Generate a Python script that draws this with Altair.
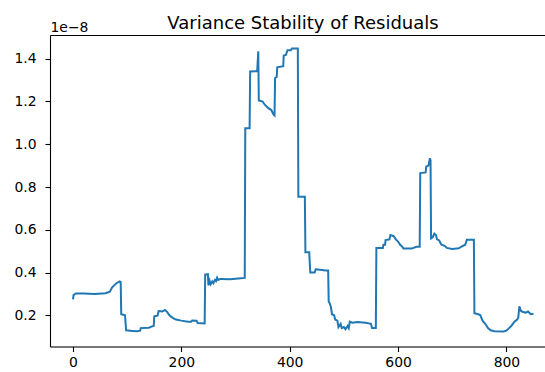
import altair as alt
import pandas as pd

# Rolling variance of residuals (units of 1e-8)
x_vals = [0, 1, 3, 5, 20, 40, 60, 68, 72, 76, 80, 84, 86, 88, 89, 96, 98, 110, 118, 124,
          125, 140, 146, 149, 150, 156, 158, 165, 170, 174, 178, 184, 190, 200, 212, 218,
          220, 228, 230, 243, 244, 249, 250, 252, 254, 257, 259, 262, 264, 266, 268, 272,
          290, 305, 317, 318, 326, 327, 340, 342, 343, 350, 354, 360, 366, 370, 372, 373,
          376, 377, 388, 389, 393, 396, 402, 404, 415, 416, 428, 429, 436, 438, 446, 448,
          460, 466, 471, 472, 474, 476, 478, 482, 484, 488, 490, 494, 496, 500, 503, 507,
          509, 511, 516, 525, 540, 550, 552, 559, 560, 572, 573, 576, 577, 584, 586, 592,
          596, 600, 604, 608, 610, 625, 634, 640, 641, 651, 652, 656, 659, 660, 661, 664,
          667, 670, 672, 676, 680, 686, 690, 700, 712, 718, 724, 727, 740, 741, 748, 752,
          756, 761, 766, 771, 778, 795, 800, 805, 809, 812, 815, 820, 822, 824, 827, 831,
          836, 840, 845, 850]
y_vals = [0.275, 0.295, 0.298, 0.302, 0.302, 0.300, 0.303, 0.310, 0.330, 0.340, 0.350,
          0.355, 0.358, 0.355, 0.205, 0.200, 0.130, 0.127, 0.125, 0.128, 0.140, 0.142,
          0.148, 0.150, 0.195, 0.198, 0.220, 0.218, 0.225, 0.215, 0.200, 0.188, 0.180,
          0.175, 0.170, 0.170, 0.176, 0.175, 0.164, 0.162, 0.390, 0.392, 0.340, 0.362,
          0.345, 0.358, 0.350, 0.365, 0.360, 0.376, 0.365, 0.370, 0.368, 0.372, 0.375,
          1.075, 1.075, 1.340, 1.342, 1.435, 1.205, 1.200, 1.185, 1.170, 1.160, 1.140,
          1.135, 1.310, 1.315, 1.360, 1.365, 1.415, 1.418, 1.440, 1.440, 1.448, 1.448,
          0.755, 0.755, 0.495, 0.495, 0.400, 0.400, 0.415, 0.412, 0.410, 0.410, 0.265,
          0.255, 0.240, 0.205, 0.200, 0.180, 0.175, 0.145, 0.160, 0.140, 0.145, 0.135,
          0.150, 0.140, 0.170, 0.165, 0.168, 0.165, 0.160, 0.140, 0.140, 0.515, 0.515,
          0.530, 0.530, 0.552, 0.555, 0.575, 0.570, 0.555, 0.545, 0.530, 0.520, 0.512,
          0.512, 0.520, 0.520, 0.865, 0.868, 0.895, 0.900, 0.935, 0.925, 0.560, 0.565,
          0.582, 0.575, 0.555, 0.550, 0.530, 0.525, 0.515, 0.510, 0.513, 0.522, 0.530,
          0.553, 0.553, 0.210, 0.205, 0.200, 0.175, 0.160, 0.140, 0.130, 0.125, 0.124,
          0.128, 0.140, 0.150, 0.160, 0.170, 0.180, 0.190, 0.242, 0.220, 0.215, 0.212,
          0.218, 0.205, 0.207]

x_ticks = [0, 200, 400, 600, 800]
y_ticks = [0.2, 0.4, 0.6, 0.8, 1.0, 1.2, 1.4]

df = pd.DataFrame({"x": x_vals, "y": y_vals})

FONT = "DejaVu Sans"
xscale = alt.Scale(domain=[-42.5, 871.3], nice=False, zero=False)
yscale = alt.Scale(domain=[0.054, 1.511], nice=False, zero=False)

base = alt.Chart(df)

line = base.mark_line(color="#1f77b4", strokeWidth=2.0).encode(
    x=alt.X("x:Q", scale=xscale,
            axis=alt.Axis(values=x_ticks, title=None, grid=False, format="d",
                          tickSize=5, tickWidth=1.1, tickColor="#000",
                          domainColor="#000", domainWidth=1.1,
                          labelFont=FONT, labelFontSize=13.9, labelColor="#000",
                          labelPadding=4, labelFlush=False)),
    y=alt.Y("y:Q", scale=yscale,
            axis=alt.Axis(values=y_ticks, format=".1f", grid=False,
                          title="1e\u22128", titleAngle=0, titleAlign="left",
                          titleBaseline="alphabetic", titleX=0, titleY=-4,
                          titleFont=FONT, titleFontSize=13.9, titleFontWeight="normal",
                          titleColor="#000",
                          tickSize=5, tickWidth=1.1, tickColor="#000",
                          domainColor="#000", domainWidth=1.1,
                          labelFont=FONT, labelFontSize=13.9, labelColor="#000",
                          labelPadding=9, labelFlush=False)),
    order=alt.Order("x:Q"),
)

top = base.mark_line(opacity=0).encode(
    x=alt.X("x:Q", scale=xscale,
            axis=alt.Axis(orient="top", labels=False, ticks=False, grid=False, title=None,
                          domainColor="#000", domainWidth=1.1)),
    y=alt.Y("y:Q", scale=yscale),
)

chart = (
    alt.layer(line, top)
    .resolve_axis(x="independent")
    .properties(
        width=495,
        height=311.5,
        autosize=alt.AutoSizeParams(type="none"),
        padding={"left": 50, "top": 35, "right": 0, "bottom": 25.5},
        title=alt.TitleParams("Variance Stability of Residuals", font=FONT, fontSize=18,
                              fontWeight="normal", color="#000", anchor="middle",
                              dx=5.5, offset=0, dy=26.5, baseline="alphabetic"),
    )
    .configure_view(stroke=None)
    .configure(background="white")
)

chart.save("out.html", embed_options={"renderer": "svg", "actions": False})
